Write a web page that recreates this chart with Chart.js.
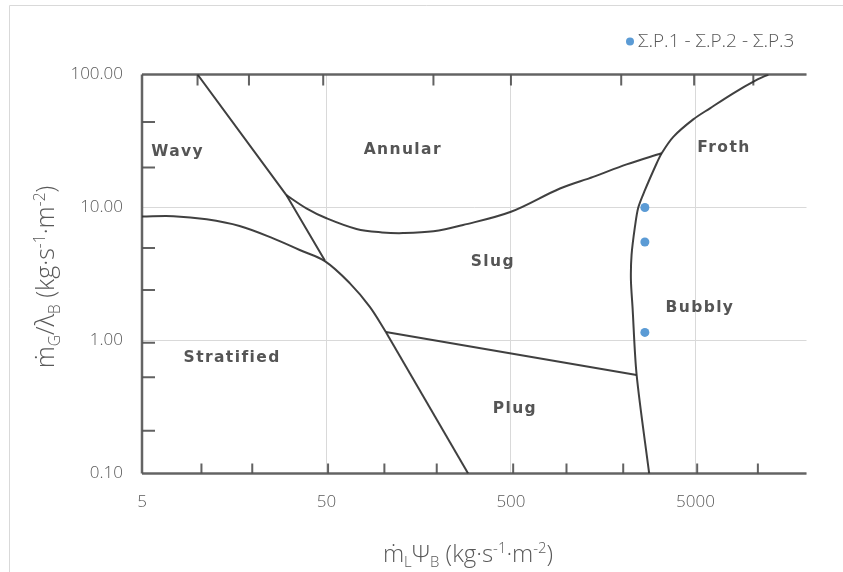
<!DOCTYPE html>
<html>
<head>
<meta charset="utf-8">
<script src="https://cdn.jsdelivr.net/npm/chart.js@4"></script>
<style>
  body { margin: 0; background: #fff; }
  #wrap { width: 843px; height: 572px; position: relative; }
</style>
</head>
<body>
<div id="wrap"><canvas id="chart" width="843" height="572"></canvas></div>
<script>
// measured points (same x for the three runs)
const pointX = [2660, 2660, 2660];
const pointY = [10.0, 5.5, 1.15];
const seriesName = 'Σ.P.1 - Σ.P.2 - Σ.P.3';

const xTicks = [5, 50, 500, 5000];
const yTicks = [0.1, 1, 10, 100];

// Baker map boundaries
const wavyAnnularX = [10, 30.3, 49];
const wavyAnnularY = [100, 12.4, 4.0];
const stratCurveX = [5, 7.4, 11.2, 16.9, 25.7, 35.8, 49, 67, 85.9, 104.9];
const stratCurveY = [8.55, 8.6, 8.15, 7.26, 5.86, 4.79, 3.95, 2.69, 1.79, 1.16];
const stratLineX = [104.9, 293];
const stratLineY = [1.16, 0.1];
const annularX = [30.3, 38.9, 50, 72.7, 100, 130, 190, 275, 500, 922, 1396, 2118, 3281];
const annularY = [12.4, 9.86, 8.3, 6.9, 6.5, 6.42, 6.62, 7.39, 9.29, 13.9, 17.0, 21.1, 25.6];
const plugX = [104.9, 2400];
const plugY = [1.16, 0.551];
const bubblyX = [2807, 2400, 2280, 2235, 2253, 2350, 2450, 2662, 3083, 3281, 3793, 4866, 5994, 8015, 10735, 12420];
const bubblyY = [0.1, 0.551, 1.79, 2.85, 4.4, 7.17, 10, 13.5, 21.5, 25.6, 34, 46, 55.7, 72.2, 91, 100];

// tick marks printed on the scan
const scanTicksLeft = [44, 20, 4.95, 2.4, 0.96, 0.53, 0.21];
const scanTicksTop = [10, 19, 48, 190, 500, 1980, 4920, 10300];
const scanTicksBottom = [10.5, 19.8, 51, 103, 198, 514, 1000, 2030, 5110, 10900];

const regionNames = ['Wavy', 'Annular', 'Froth', 'Slug', 'Bubbly', 'Stratified', 'Plug'];
const regionX = [7.8, 129.6, 7140, 399, 5290, 15.4, 525];
const regionY = [26.1, 27.1, 28.1, 3.89, 1.75, 0.738, 0.305];

const toPts = (xs, ys) => xs.map((x, i) => ({ x, y: ys[i] }));

const ink = 'rgba(48,48,48,0.92)';
function scanLine(xs, ys, tension) {
  return { type: 'line', data: toPts(xs, ys), showLine: true, pointRadius: 0,
    borderColor: ink, borderWidth: 2, tension: tension, fill: false };
}
function frameLine(xs, ys) {
  return { type: 'line', data: toPts(xs, ys), showLine: true, pointRadius: 0,
    borderColor: 'rgba(85,85,85,0.9)', borderWidth: 2.5, tension: 0, fill: false, clip: false };
}

const axisFont = 'Open Sans';
const grey = '#595959';

function drawRich(ctx, parts, size) {
  // parts: [text, mode] mode: 0 normal, 1 sub, 2 sup
  const small = size * 0.62;
  let w = 0;
  parts.forEach(([t, m]) => {
    ctx.font = `300 ${m ? small : size}px "${axisFont}"`;
    w += ctx.measureText(t).width;
  });
  let x = -w / 2;
  parts.forEach(([t, m]) => {
    ctx.font = `300 ${m ? small : size}px "${axisFont}"`;
    const dy = m === 1 ? size * 0.22 : m === 2 ? -size * 0.38 : 0;
    ctx.fillText(t, x, dy);
    x += ctx.measureText(t).width;
  });
}

const decor = {
  id: 'decor',
  beforeDatasetsDraw(chart) {
    const { ctx, scales: { x, y } } = chart;
    ctx.save();
    ctx.strokeStyle = 'rgba(70,70,70,0.85)';
    ctx.lineWidth = 2;
    ctx.beginPath();
    scanTicksLeft.forEach(v => {
      const py = y.getPixelForValue(v);
      ctx.moveTo(x.left, py); ctx.lineTo(x.left + 13, py);
    });
    scanTicksTop.forEach(v => {
      const px = x.getPixelForValue(v);
      ctx.moveTo(px, y.top); ctx.lineTo(px, y.top + 11);
    });
    scanTicksBottom.forEach(v => {
      const px = x.getPixelForValue(v);
      ctx.moveTo(px, y.bottom); ctx.lineTo(px, y.bottom - 10);
    });
    ctx.stroke();

    ctx.fillStyle = '#555';
    ctx.font = 'bold 15.5px "DejaVu Sans"';
    ctx.letterSpacing = '1.4px';
    ctx.textAlign = 'center';
    ctx.textBaseline = 'middle';
    regionNames.forEach((n, i) => {
      ctx.fillText(n, x.getPixelForValue(regionX[i]), y.getPixelForValue(regionY[i]));
    });
    ctx.restore();
  },
  afterDraw(chart) {
    const { ctx } = chart;
    ctx.save();
    // chart frame
    ctx.strokeStyle = '#d9d9d9';
    ctx.lineWidth = 1;
    ctx.beginPath();
    ctx.moveTo(9.5, 572); ctx.lineTo(9.5, 5.5); ctx.lineTo(843, 5.5);
    ctx.stroke();

    // legend
    ctx.fillStyle = '#5b9bd5';
    ctx.beginPath();
    ctx.arc(630, 41.5, 4, 0, Math.PI * 2);
    ctx.fill();
    ctx.fillStyle = grey;
    ctx.font = `300 19px "${axisFont}"`;
    ctx.textAlign = 'left';
    ctx.textBaseline = 'middle';
    ctx.fillText(seriesName, 638, 41.5);

    // axis titles
    ctx.textAlign = 'left';
    ctx.textBaseline = 'alphabetic';
    ctx.save();
    ctx.translate(468, 562);
    drawRich(ctx, [['ṁ', 0], ['L', 1], ['Ψ', 0], ['B', 1], [' (kg·s', 0], ['-1', 2], ['·m', 0], ['-2', 2], [')', 0]], 24);
    ctx.restore();
    ctx.save();
    ctx.translate(54, 277);
    ctx.rotate(-Math.PI / 2);
    drawRich(ctx, [['ṁ', 0], ['G', 1], ['/λ', 0], ['B', 1], [' (kg·s', 0], ['-1', 2], ['·m', 0], ['-2', 2], [')', 0]], 25);
    ctx.restore();
    ctx.restore();
  }
};

new Chart(document.getElementById('chart'), {
  type: 'scatter',
  data: {
    datasets: [
      { label: seriesName, data: toPts(pointX, pointY), pointRadius: 4.5, pointHoverRadius: 4.5,
        backgroundColor: '#5b9bd5', borderColor: '#5b9bd5', borderWidth: 0 },
      scanLine(wavyAnnularX, wavyAnnularY, 0),
      scanLine(stratCurveX, stratCurveY, 0.35),
      scanLine(stratLineX, stratLineY, 0),
      scanLine(annularX, annularY, 0.35),
      scanLine(plugX, plugY, 0),
      scanLine(bubblyX, bubblyY, 0.3),
      frameLine([5, 20000], [100, 100]),
      frameLine([5, 5], [0.1, 100]),
      frameLine([5, 20000], [0.1, 0.1])
    ]
  },
  options: {
    responsive: false,
    animation: false,
    layout: { padding: { top: 74.5, right: 36.5, left: 0, bottom: 0 } },
    plugins: { legend: { display: false }, tooltip: { enabled: false } },
    scales: {
      x: {
        type: 'logarithmic', min: 5, max: 20000,
        afterBuildTicks: s => { s.ticks = xTicks.map(v => ({ value: v })); },
        afterFit: s => { s.height = 98.5; },
        grid: { color: '#d9d9d9', drawTicks: false },
        border: { display: false },
        ticks: { padding: 18, color: grey, font: { family: axisFont, size: 17, weight: 300 },
          callback: v => String(v) }
      },
      y: {
        type: 'logarithmic', min: 0.1, max: 100,
        afterBuildTicks: s => { s.ticks = yTicks.map(v => ({ value: v })); },
        afterFit: s => { s.width = 142; },
        grid: { color: '#d9d9d9', drawTicks: false },
        border: { display: false },
        ticks: { padding: 19, color: grey, font: { family: axisFont, size: 17, weight: 300 },
          callback: v => Number(v).toFixed(2) }
      }
    }
  },
  plugins: [decor]
});
</script>
</body>
</html>
